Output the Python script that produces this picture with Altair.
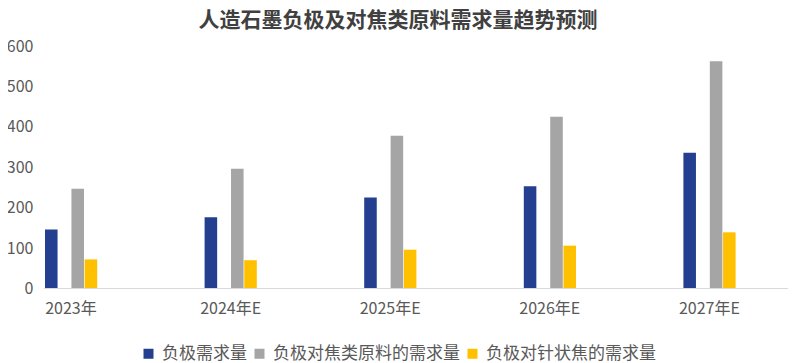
import altair as alt
import pandas as pd

years = ["2023年", "2024年E", "2025年E", "2026年E", "2027年E"]
series = ["负极需求量", "负极对焦类原料的需求量", "负极对针状焦的需求量"]
anode_demand = [146, 176, 225, 253, 336]
coke_raw_demand = [247, 296, 378, 425, 562]
needle_coke_demand = [72, 70, 96, 106, 139]
colors = ["#243F8F", "#A5A5A5", "#FFC000"]

rows = []
for name, vals in zip(series, [anode_demand, coke_raw_demand, needle_coke_demand]):
    for y, v in zip(years, vals):
        rows.append({"year": y, "series": name, "value": v})
df = pd.DataFrame(rows)

W = 744
H = 242.5
TEXT = "#595959"
FONT = "Noto Sans CJK SC"

offset_domain = [series[0], "_gap", series[1], series[2]]

bars = alt.Chart(df).mark_bar().encode(
    x=alt.X("year:N", sort=years,
            scale=alt.Scale(domain=years, range=[-52.8, 745.2], paddingInner=0, paddingOuter=0),
            axis=alt.Axis(title=None, labelAngle=0, domain=False, ticks=False,
                          labelPadding=12, labelFontSize=16, labelColor=TEXT, labelFont=FONT)),
    xOffset=alt.XOffset("series:N", scale=alt.Scale(domain=offset_domain, range=[53.8, 106.0],
                                                     paddingInner=0.05, paddingOuter=0)),
    y=alt.Y("value:Q", scale=alt.Scale(domain=[0, 600], nice=False),
            axis=alt.Axis(title=None, values=[0, 100, 200, 300, 400, 500, 600], domain=False,
                          ticks=False, grid=False, labelPadding=11, labelFontSize=16,
                          labelColor=TEXT, labelFont=FONT)),
    color=alt.Color("series:N", scale=alt.Scale(domain=series, range=colors),
                    legend=alt.Legend(title=None, orient="none", direction="horizontal",
                                      legendX=96, legendY=299, symbolType="square",
                                      symbolSize=100, symbolStrokeWidth=0, labelFontSize=17,
                                      labelColor=TEXT, labelFont=FONT, labelOffset=5,
                                      labelLimit=400, columnPadding=4)),
)

axis_line = alt.Chart(df).mark_rule(color="#D9D9D9", strokeWidth=1).encode(
    x=alt.value(0), x2=alt.value(W), y=alt.datum(0)
)

chart = alt.layer(bars, axis_line).properties(
    width=W, height=H,
    autosize=alt.AutoSizeParams(type="none"),
    padding={"left": 36, "top": 38, "right": 4, "bottom": 76},
    title=alt.TitleParams("人造石墨负极及对焦类原料需求量趋势预测", fontSize=21, fontWeight="bold",
                          color="#404040", font=FONT, anchor="middle", offset=7.5, dx=-18),
).configure_view(stroke=None)

chart.save("out.html", embed_options={"renderer": "svg", "actions": False})
